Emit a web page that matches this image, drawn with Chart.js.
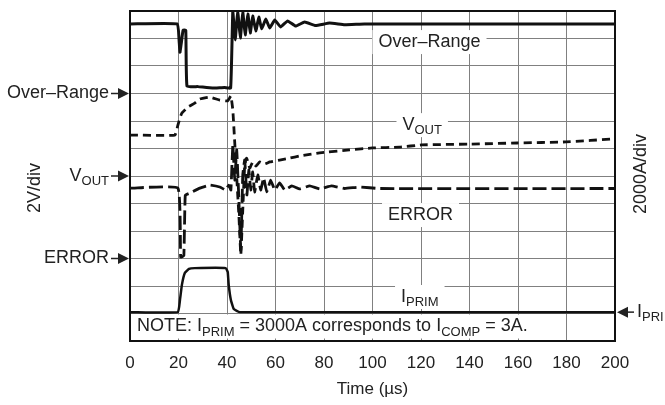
<!DOCTYPE html>
<html>
<head>
<meta charset="utf-8">
<script src="https://cdn.jsdelivr.net/npm/chart.js@4.4.1/dist/chart.umd.min.js"></script>
<style>
  html, body { margin: 0; padding: 0; background: #fff; }
  #wrap { width: 665px; height: 405px; }
</style>
</head>
<body>
<div id="wrap"><canvas id="scopeChart" width="665" height="405"></canvas></div>
<script>
// time in microseconds, levels in scope divisions (0 = bottom of screen, 12 = top)
var timeTicks = [0, 20, 40, 60, 80, 100, 120, 140, 160, 180, 200];

var overRangeT = [0, 19.5, 20.2, 20.6, 21.1, 21.9, 23.0, 23.5, 28, 34, 39, 41.5,
  42.4, 43.4, 44.4, 45.5, 46.5, 47.5, 48.6, 49.6, 50.6, 51.9,
  53.1, 54.3, 56.0, 57.6, 59.7, 62.1, 65.0, 68.3, 72.0, 76.5, 82.3, 88.5, 96.7, 200];
var overRangeY = [11.53, 11.53, 11.0, 10.5, 10.8, 11.3, 11.3, 9.27, 9.25, 9.2, 9.22, 9.2,
  12.0, 10.95, 12.0, 11.02, 11.96, 11.13, 11.89, 11.2, 11.82, 11.27,
  11.78, 11.35, 11.71, 11.38, 11.67, 11.42, 11.64, 11.45, 11.6, 11.47, 11.56, 11.5, 11.53, 11.53];

var vOutT = [0, 18.5, 19.75, 20.6, 21.4, 23.9, 26.7, 28.8, 32.9, 37.0,
  40.3, 41.6, 42.4, 43.6, 44.9, 45.7, 46.5, 47.3, 48.1, 49.4,
  50.6, 51.9, 53.5, 55.6, 57.6, 61.7, 65.8, 70.0, 78.2, 90.5,
  100, 111.1, 120.2, 139.9, 159.7, 179.8, 200];
var vOutY = [7.49, 7.49, 7.85, 8.11, 8.29, 8.51, 8.65, 8.8, 8.87, 8.76,
  8.73, 8.91, 8.4, 6.58, 4.58, 3.13, 4.76, 6.4, 6.65, 6.29,
  6.51, 6.36, 6.51, 6.44, 6.51, 6.58, 6.65, 6.73, 6.84, 6.95,
  7.02, 7.05, 7.13, 7.16, 7.2, 7.24, 7.35];

var errorT = [0, 19.75, 20.9, 22.2, 22.8, 24.7, 28.8, 32.9, 37.0, 39.5,
  40.7, 41.6, 42.4, 43.2, 44.0, 44.9, 45.7, 46.5, 47.3, 48.2,
  49.0, 49.8, 50.6, 51.4, 52.7, 53.9, 55.1, 56.4, 58.0, 59.7,
  61.7, 63.8, 66.7, 70.0, 74.1, 78.2, 83.1, 88.5, 94.7, 102.9, 200];
var errorY = [5.56, 5.56, 3.05, 3.1, 5.3, 5.38, 5.56, 5.67, 5.6, 5.49,
  5.67, 5.49, 7.13, 5.85, 6.95, 5.13, 3.31, 6.04, 6.58, 5.31,
  6.22, 5.49, 6.15, 5.42, 6.04, 5.49, 5.93, 5.42, 5.85, 5.49,
  5.75, 5.49, 5.64, 5.53, 5.64, 5.53, 5.64, 5.545, 5.6, 5.545, 5.545];

var iPrimT = [0, 19.75, 20.6, 21.4, 22.6, 24.3, 26.7, 39.5, 40.3, 40.7, 41.6, 42.8, 45.3, 200];
var iPrimY = [1.05, 1.05, 1.49, 2.04, 2.47, 2.62, 2.65, 2.65, 2.51, 2.04, 1.49, 1.16, 1.05, 1.05];

var FONT = '"Liberation Sans", Arial, Helvetica, sans-serif';
var TXT = 18, SUB = 13;

function toPoints(ts, ys) {
  return ts.map(function (t, i) { return { x: t, y: ys[i] }; });
}

// text with subscripts: parts = [[text, isSub], ...], y = middle of main text
function richWidth(ctx, parts) {
  var w = 0;
  parts.forEach(function (p) {
    ctx.font = (p[1] ? SUB : TXT) + 'px ' + FONT;
    w += ctx.measureText(p[0]).width;
  });
  return w;
}
function drawRich(ctx, x, y, parts) {
  ctx.textAlign = 'left';
  ctx.textBaseline = 'middle';
  parts.forEach(function (p) {
    ctx.font = (p[1] ? SUB : TXT) + 'px ' + FONT;
    ctx.fillText(p[0], x, p[1] ? y + TXT * 0.32 : y);
    x += ctx.measureText(p[0]).width;
  });
}
function arrowRight(ctx, tip, y) {
  ctx.beginPath();
  ctx.moveTo(tip - 18, y); ctx.lineTo(tip - 8, y); ctx.stroke();
  ctx.beginPath();
  ctx.moveTo(tip - 11, y - 5.5); ctx.lineTo(tip, y); ctx.lineTo(tip - 11, y + 5.5);
  ctx.closePath(); ctx.fill();
}
function arrowLeft(ctx, tip, y) {
  ctx.beginPath();
  ctx.moveTo(tip + 8, y); ctx.lineTo(tip + 17, y); ctx.stroke();
  ctx.beginPath();
  ctx.moveTo(tip + 11, y - 5.5); ctx.lineTo(tip, y); ctx.lineTo(tip + 11, y + 5.5);
  ctx.closePath(); ctx.fill();
}

var inLabels = [
  { t: 123.5, v: 10.87, parts: [['Over\u2013Range', false]] },
  { t: 120.5, v: 7.85, parts: [['V', false], ['OUT', true]] },
  { t: 119.8, v: 4.58, parts: [['ERROR', false]] },
  { t: 119.5, v: 1.6, parts: [['I', false], ['PRIM', true]] }
];
var sideLabels = [
  { v: 9, parts: [['Over\u2013Range', false]] },
  { v: 6, parts: [['V', false], ['OUT', true]] },
  { v: 3, parts: [['ERROR', false]] }
];
var noteParts = [['NOTE: I', false], ['PRIM', true], [' = 3000A corresponds to I', false],
  ['COMP', true], [' = 3A.', false]];

var scopeDecor = {
  id: 'scopeDecor',
  beforeDatasetsDraw: function (chart) {
    var ctx = chart.ctx, xs = chart.scales.x, ys = chart.scales.y, a = chart.chartArea;
    ctx.save();
    inLabels.forEach(function (l) {
      var w = richWidth(ctx, l.parts);
      var cx = xs.getPixelForValue(l.t), cy = ys.getPixelForValue(l.v);
      ctx.fillStyle = '#fff';
      ctx.fillRect(cx - w / 2 - 6, cy - 12, w + 12, 24);
      ctx.fillStyle = '#222';
      drawRich(ctx, cx - w / 2, cy, l.parts);
    });
    // note box on the bottom division
    var nw = richWidth(ctx, noteParts);
    ctx.fillStyle = '#fff';
    ctx.fillRect(a.left + 1, ys.getPixelForValue(1) + 1, nw + 13, 24);
    ctx.fillStyle = '#222';
    drawRich(ctx, a.left + 7, ys.getPixelForValue(0.5) - 1, noteParts);
    ctx.restore();
  },
  afterDraw: function (chart) {
    var ctx = chart.ctx, ys = chart.scales.y, a = chart.chartArea;
    ctx.save();
    ctx.strokeStyle = '#111';
    ctx.lineWidth = 2;
    ctx.strokeRect(a.left, a.top, a.right - a.left, a.bottom - a.top);
    ctx.fillStyle = '#222';
    ctx.strokeStyle = '#222';
    ctx.lineWidth = 1.5;
    sideLabels.forEach(function (l) {
      var y = ys.getPixelForValue(l.v);
      var w = richWidth(ctx, l.parts);
      drawRich(ctx, a.left - 21 - w, y, l.parts);
      arrowRight(ctx, a.left - 1, y);
    });
    var yp = ys.getPixelForValue(1.05);
    arrowLeft(ctx, a.right + 2, yp);
    drawRich(ctx, a.right + 22, yp, [['I', false], ['PRI', true]]);

    ctx.font = TXT + 'px ' + FONT;
    ctx.textAlign = 'center';
    ctx.textBaseline = 'middle';
    ctx.translate(35, 188);
    ctx.rotate(-Math.PI / 2);
    ctx.fillText('2V/div', 0, 0);
    ctx.restore();
    ctx.save();
    ctx.font = TXT + 'px ' + FONT;
    ctx.fillStyle = '#222';
    ctx.textAlign = 'center';
    ctx.textBaseline = 'middle';
    ctx.translate(641, 174);
    ctx.rotate(-Math.PI / 2);
    ctx.fillText('2000A/div', 0, 0);
    ctx.restore();
  }
};

function trace(label, ts, ys, width, dash) {
  return {
    label: label,
    data: toPoints(ts, ys),
    borderColor: '#111',
    borderWidth: width,
    borderDash: dash,
    pointRadius: 0,
    tension: 0.1,
    fill: false
  };
}

new Chart(document.getElementById('scopeChart'), {
  type: 'line',
  data: {
    datasets: [
      trace('I_PRIM', iPrimT, iPrimY, 2.5, []),
      trace('ERROR', errorT, errorY, 2.8, [14, 5]),
      trace('V_OUT', vOutT, vOutY, 2.8, [8, 5]),
      trace('Over-Range', overRangeT, overRangeY, 3, [])
    ]
  },
  options: {
    responsive: false,
    animation: false,
    devicePixelRatio: 1,
    layout: { padding: { left: 130, right: 50, top: 11, bottom: 0 } },
    plugins: { legend: { display: false }, tooltip: { enabled: false } },
    scales: {
      x: {
        type: 'linear',
        min: 0,
        max: 200,
        afterBuildTicks: function (s) { s.ticks = timeTicks.map(function (v) { return { value: v }; }); },
        afterFit: function (s) { s.height = 64; },
        ticks: { color: '#222', font: { family: FONT, size: 17 }, padding: 12, maxRotation: 0, autoSkip: false },
        grid: { color: '#808080', lineWidth: 1, drawTicks: false },
        border: { display: false },
        title: { display: true, text: 'Time (\u00b5s)', color: '#222', font: { family: FONT, size: 17 }, padding: { top: 0, bottom: 5 } }
      },
      y: {
        type: 'linear',
        min: 0,
        max: 12,
        afterFit: function (s) { s.width = 0; },
        ticks: { display: false, stepSize: 1 },
        grid: { color: '#808080', lineWidth: 1, drawTicks: false },
        border: { display: false }
      }
    }
  },
  plugins: [scopeDecor]
});
</script>
</body>
</html>
